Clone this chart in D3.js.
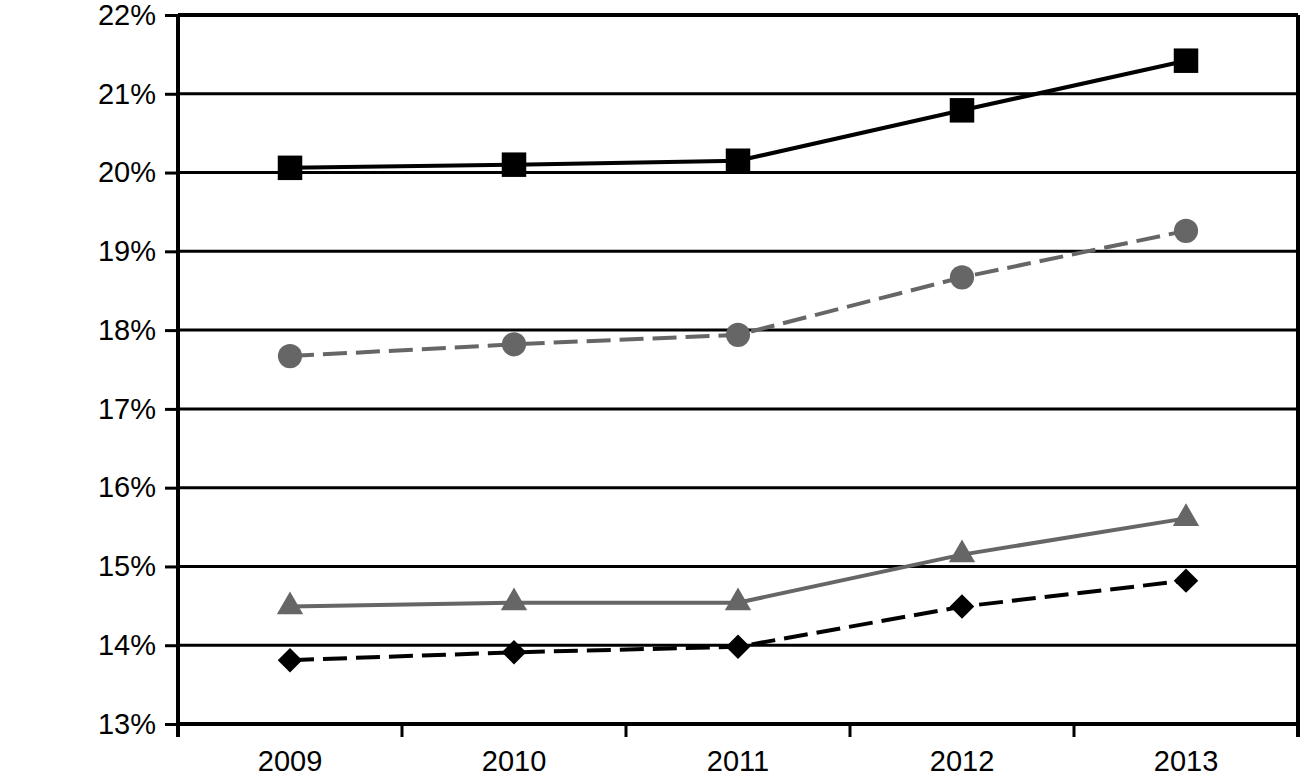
<!DOCTYPE html>
<html>
<head>
<meta charset="utf-8">
<script src="https://cdn.jsdelivr.net/npm/d3@7"></script>
<style>
  body { margin: 0; background: #fff; }
  text { font-family: "Liberation Sans", Arial, sans-serif; }
</style>
</head>
<body>
<div id="vis"></div>
<script>
const FRAME_WIDTH = 1301;
const FRAME_HEIGHT = 781;
const MARGINS = {left: 178, right: 3, top: 15, bottom: 57};

const VIS_WIDTH = FRAME_WIDTH - MARGINS.left - MARGINS.right;
const VIS_HEIGHT = FRAME_HEIGHT - MARGINS.top - MARGINS.bottom;

// data
const years = ["2009", "2010", "2011", "2012", "2013"];
const squareSeries = [20.06, 20.10, 20.15, 20.79, 21.42];
const circleSeries = [17.67, 17.82, 17.94, 18.67, 19.26];
const triangleSeries = [14.49, 14.54, 14.54, 15.15, 15.61];
const diamondSeries = [13.81, 13.91, 13.98, 14.49, 14.82];
const yTicks = [13, 14, 15, 16, 17, 18, 19, 20, 21, 22];

// rotate = 45 turns a square into the diamond marker
const series = [
  {values: squareSeries, color: "#000", dash: null, symbol: d3.symbolSquare, size: 600, rotate: 0},
  {values: circleSeries, color: "#666", dash: "24,9", symbol: d3.symbolCircle, size: 460, rotate: 0},
  {values: triangleSeries, color: "#666", dash: null, symbol: d3.symbolTriangle, size: 300, rotate: 0},
  {values: diamondSeries, color: "#000", dash: "24,9", symbol: d3.symbolSquare, size: 300, rotate: 45}
];

const FRAME = d3.select("#vis")
  .append("svg")
    .attr("width", FRAME_WIDTH)
    .attr("height", FRAME_HEIGHT);

const X_SCALE = d3.scaleBand()
  .domain(years)
  .range([0, VIS_WIDTH]);

const Y_SCALE = d3.scaleLinear()
  .domain([13, 22])
  .range([VIS_HEIGHT, 0]);

const g = FRAME.append("g")
  .attr("transform", "translate(" + MARGINS.left + "," + MARGINS.top + ")");

// horizontal gridlines
g.selectAll(".grid")
  .data(yTicks.slice(1, -1))
  .enter()
  .append("line")
    .attr("x1", 0)
    .attr("x2", VIS_WIDTH)
    .attr("y1", d => Y_SCALE(d))
    .attr("y2", d => Y_SCALE(d))
    .attr("stroke", "#000")
    .attr("stroke-width", 3);

// frame top and right
g.append("line")
  .attr("x1", 0).attr("x2", VIS_WIDTH)
  .attr("y1", Y_SCALE(22)).attr("y2", Y_SCALE(22))
  .attr("stroke", "#000").attr("stroke-width", 4);
g.append("line")
  .attr("x1", VIS_WIDTH).attr("x2", VIS_WIDTH)
  .attr("y1", 0).attr("y2", VIS_HEIGHT + 13)
  .attr("stroke", "#000").attr("stroke-width", 4);

// y axis
const yAxis = g.append("g")
  .call(d3.axisLeft(Y_SCALE).tickValues(yTicks).tickFormat(d => d + "%").tickSize(13).tickPadding(9));
yAxis.select(".domain").attr("stroke-width", 4).attr("d", "M0," + (VIS_HEIGHT + 13) + "V0");
yAxis.selectAll(".tick line").attr("stroke-width", 3);
yAxis.selectAll("text").attr("font-size", 29).attr("fill", "#000")
  .attr("font-family", "'Liberation Sans', Arial, sans-serif");

// x axis
const xAxis = g.append("g")
  .attr("transform", "translate(0," + VIS_HEIGHT + ")")
  .call(d3.axisBottom(X_SCALE).tickSize(0).tickPadding(26));
xAxis.select(".domain").attr("stroke-width", 4).attr("d", "M0,0H" + VIS_WIDTH);
xAxis.selectAll("text").attr("font-size", 29).attr("fill", "#000")
  .attr("font-family", "'Liberation Sans', Arial, sans-serif");

// x ticks at band edges
g.selectAll(".xtick")
  .data(years.slice(1))
  .enter()
  .append("line")
    .attr("x1", d => X_SCALE(d))
    .attr("x2", d => X_SCALE(d))
    .attr("y1", VIS_HEIGHT)
    .attr("y2", VIS_HEIGHT + 13)
    .attr("stroke", "#000")
    .attr("stroke-width", 3);

const cx = (i) => X_SCALE(years[i]) + X_SCALE.bandwidth() / 2;

const line = d3.line()
  .x((d, i) => cx(i))
  .y(d => Y_SCALE(d));

series.forEach(s => {
  g.append("path")
    .datum(s.values)
    .attr("d", line)
    .attr("fill", "none")
    .attr("stroke", s.color)
    .attr("stroke-width", 4)
    .attr("stroke-dasharray", s.dash);

  g.selectAll(null)
    .data(s.values)
    .enter()
    .append("path")
      .attr("d", d3.symbol().type(s.symbol).size(s.size))
      .attr("transform", (d, i) => "translate(" + cx(i) + "," + Y_SCALE(d) + ") rotate(" + s.rotate + ")")
      .attr("fill", s.color);
});
</script>
</body>
</html>
